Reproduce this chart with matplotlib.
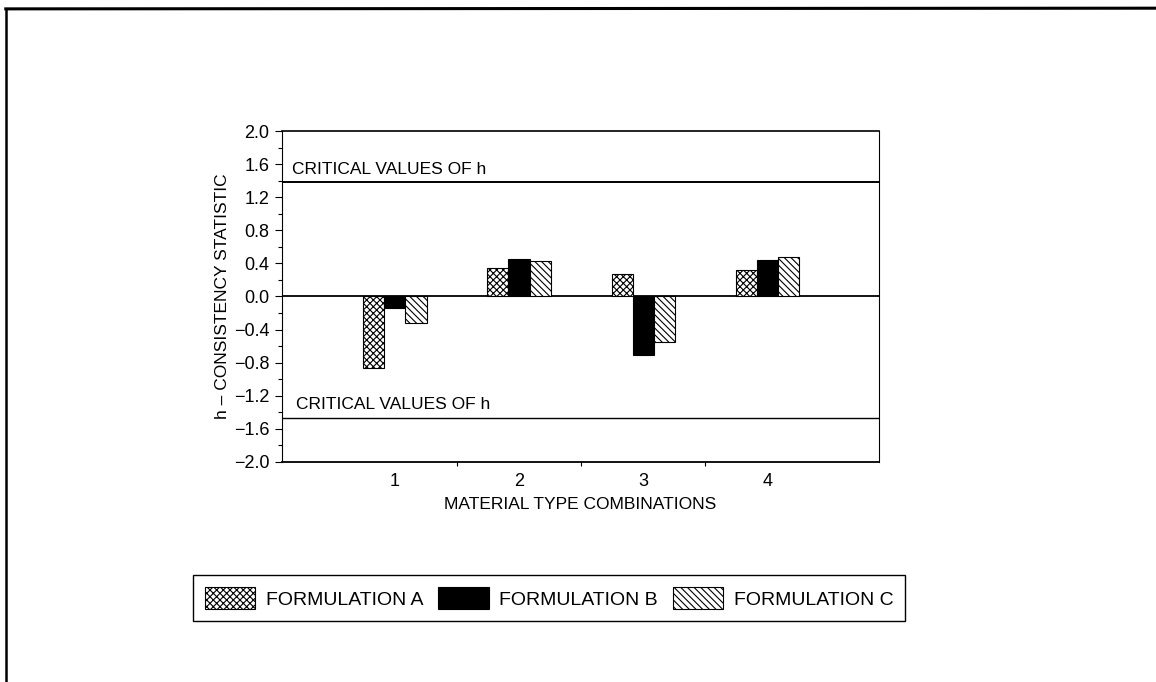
import numpy as np
import matplotlib
matplotlib.use('Agg')
import matplotlib.pyplot as plt
from matplotlib.lines import Line2D
from matplotlib.ticker import MultipleLocator, FixedLocator

plt.rcParams['font.family'] = ['Liberation Sans', 'DejaVu Sans']
plt.rcParams['hatch.linewidth'] = 0.8

# data
combos = [1, 2, 3, 4]
form_a = [-0.86, 0.35, 0.27, 0.32]
form_b = [-0.14, 0.45, -0.71, 0.44]
form_c = [-0.32, 0.43, -0.55, 0.48]
series_names = ['FORMULATION A', 'FORMULATION B', 'FORMULATION C']
crit_upper = 1.38
crit_lower = -1.47

fig = plt.figure(figsize=(11.56, 6.82), dpi=100)
ax = fig.add_axes([0.2439, 0.3226, 0.5165, 0.4853])

x = np.array(combos)
w = 0.17
ax.bar(x - w, form_a, w, color='white', edgecolor='black', hatch='xxxxx', lw=0.8, label=series_names[0])
ax.bar(x, form_b, w, color='black', edgecolor='black', lw=0.8, label=series_names[1])
ax.bar(x + w, form_c, w, color='white', edgecolor='black', hatch='\\\\\\\\\\', lw=0.8, label=series_names[2])

ax.axhline(0, color='black', lw=1.3, zorder=0)
ax.axhline(crit_upper, color='black', lw=1.4)
ax.axhline(crit_lower, color='black', lw=1.0)
ax.text(0.17, crit_upper + 0.07, 'CRITICAL VALUES OF h', fontsize=12.5, va='bottom')
ax.text(0.2, crit_lower + 0.07, 'CRITICAL VALUES OF h', fontsize=12.5, va='bottom')

yt = np.arange(-2.0, 2.01, 0.4)
ax.set_xlim(0.09, 4.9)
ax.set_ylim(-2.0, 2.0)
ax.set_yticks(yt)
ax.set_yticklabels([('%.1f' % abs(v)) if v > -1e-9 else '\u2212%.1f' % abs(v) for v in yt])
ax.yaxis.set_minor_locator(MultipleLocator(0.2))
ax.set_xticks(combos)
ax.xaxis.set_minor_locator(FixedLocator([1.5, 2.5, 3.5]))
ax.tick_params(axis='y', which='major', direction='out', length=5, width=0.8, labelsize=13, pad=4)
ax.tick_params(axis='y', which='minor', direction='out', length=3, width=0.8)
ax.tick_params(axis='x', which='major', length=0, labelsize=13, pad=8)
ax.tick_params(axis='x', which='minor', direction='out', length=3, width=0.8)
for s in ax.spines.values():
    s.set_linewidth(0.8)
ax.spines['bottom'].set_linewidth(1.3)
ax.spines['top'].set_linewidth(1.2)

ax.set_xlabel('MATERIAL TYPE COMBINATIONS', fontsize=12.5, labelpad=5)
ax.set_ylabel('h \u2013 CONSISTENCY STATISTIC', fontsize=12.5, labelpad=3)

leg = fig.legend(loc='center', bbox_to_anchor=(0.475, 0.123), ncol=3, fontsize=14,
                 frameon=True, fancybox=False, edgecolor='black', framealpha=1,
                 handlelength=2.6, handleheight=1.4, handletextpad=0.55,
                 columnspacing=0.75, borderpad=0.6, borderaxespad=0)
leg.get_frame().set_linewidth(1.0)

# outer page frame
fig.add_artist(Line2D([0.005, 1.0], [0.987, 0.988], transform=fig.transFigure, color='black', lw=2.2))
fig.add_artist(Line2D([0.005, 0.005], [0.0, 0.987], transform=fig.transFigure, color='black', lw=1.8))

fig.savefig('out.png', dpi=100)
